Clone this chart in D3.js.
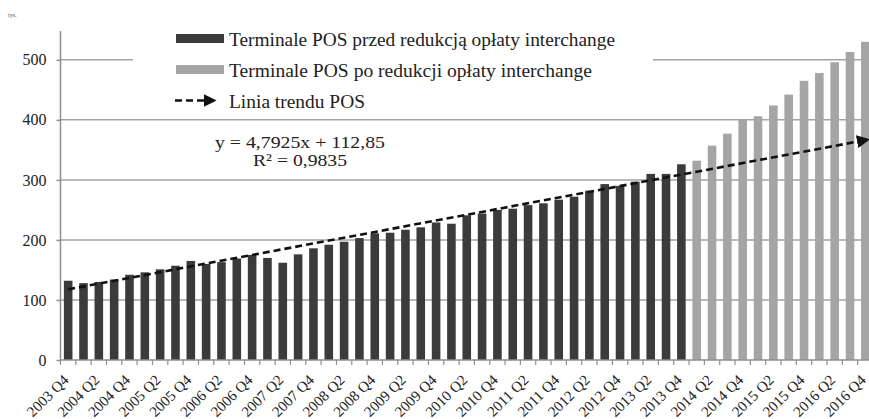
<!DOCTYPE html>
<html>
<head>
<meta charset="utf-8">
<script src="https://cdn.jsdelivr.net/npm/d3@7"></script>
<style>
  body { margin: 0; background: #fff; }
  svg { display: block; font-family: "Liberation Serif", "Times New Roman", serif; }
</style>
</head>
<body>
<div id="chart"></div>
<script>
// kwartały 2003 Q4 - 2016 Q4
const years = d3.range(2003, 2017);
const quarters = [];
years.forEach(y => [1, 2, 3, 4].forEach(q => {
  if (y === 2003 && q < 4) return;
  quarters.push(`${y} Q${q}`);
}));

// liczba terminali POS (tys.) - przed redukcją opłaty interchange (2003 Q4 - 2013 Q4)
const posBefore = [
  132, 128, 130, 134, 142, 146, 151, 157, 165, 160,
  163, 169, 175, 170, 162, 176, 186, 192, 197, 203,
  211, 212, 217, 221, 229, 227, 241, 244, 250, 252,
  258, 261, 267, 272, 282, 293, 290, 297, 310, 310,
  326
];
// po redukcji opłaty interchange (2014 Q1 - 2016 Q4)
const posAfter = [332, 357, 377, 400, 406, 424, 442, 465, 478, 496, 513, 530];

const yTicks = [0, 100, 200, 300, 400, 500];
const trend = { a: 4.7925, b: 112.85, r2: '0,9835' };
const legendLabels = [
  'Terminale POS przed redukcją opłaty interchange',
  'Terminale POS po redukcji opłaty interchange',
  'Linia trendu POS'
];
const legendWidths = [386, 363, 136];   // tekst w oryginale jest lekko rozciągnięty

const colors = { before: '#3b3b3b', after: '#a5a5a5', grid: '#a3a3a3', axis: '#8f8f8f', text: '#222' };

const data = quarters.map((q, i) => ({
  q,
  i,
  value: i < posBefore.length ? posBefore[i] : posAfter[i - posBefore.length],
  after: i >= posBefore.length
}));

const width = 869, height = 419;
const svg = d3.select('#chart').append('svg')
  .attr('width', width)
  .attr('height', height);

const x = d3.scaleBand()
  .domain(quarters)
  .range([60.5, 873])
  .paddingInner(0.44)
  .paddingOuter(0.22);

const y = d3.scaleLinear()
  .domain([0, 548])
  .range([360, 31]);

// jednostka
svg.append('text')
  .attr('x', 8).attr('y', 17)
  .attr('font-size', 6)
  .attr('fill', '#555')
  .text('tys.');

// linie siatki
svg.append('g')
  .selectAll('line')
  .data(yTicks.filter(d => d > 0))
  .join('line')
  .attr('x1', 60).attr('x2', width)
  .attr('y1', d => y(d)).attr('y2', d => y(d))
  .attr('stroke', colors.grid)
  .attr('stroke-width', 1.5);

// oś Y
const yAxis = svg.append('g')
  .attr('transform', 'translate(60.5,0)')
  .call(d3.axisLeft(y).tickValues(yTicks).tickSize(4).tickPadding(10));
yAxis.select('.domain').attr('stroke', colors.axis).attr('stroke-width', 1.5).attr('d', `M0,${y(548)}V360`);
yAxis.selectAll('.tick line').attr('stroke', colors.axis).attr('stroke-width', 1.5);
yAxis.selectAll('.tick text')
  .attr('font-family', '"Liberation Serif", serif')
  .attr('font-size', 16)
  .attr('fill', colors.text);

// słupki
svg.append('g')
  .selectAll('rect')
  .data(data)
  .join('rect')
  .attr('x', d => x(d.q))
  .attr('y', d => y(d.value))
  .attr('width', x.bandwidth())
  .attr('height', d => y(0) - y(d.value))
  .attr('fill', d => d.after ? colors.after : colors.before);

// oś X
const step = x.step();
const xAxisG = svg.append('g');
xAxisG.append('line')
  .attr('x1', 60).attr('x2', width)
  .attr('y1', 360).attr('y2', 360)
  .attr('stroke', colors.axis).attr('stroke-width', 1.5);
xAxisG.selectAll('line.tk')
  .data(d3.range(quarters.length + 1))
  .join('line')
  .attr('class', 'tk')
  .attr('x1', i => 60.5 + i * step).attr('x2', i => 60.5 + i * step)
  .attr('y1', 360).attr('y2', 365)
  .attr('stroke', colors.axis).attr('stroke-width', 1.2);
xAxisG.selectAll('text')
  .data(data.filter(d => d.i % 2 === 0))
  .join('text')
  .attr('transform', d => `translate(${x(d.q) + x.bandwidth() / 2 + 1.5},${381}) rotate(-45)`)
  .attr('text-anchor', 'end')
  .attr('font-size', 15)
  .attr('fill', colors.text)
  .text(d => d.q);

// linia trendu
const defs = svg.append('defs');
defs.append('marker')
  .attr('id', 'arrow')
  .attr('viewBox', '0 0 10 10')
  .attr('refX', 8).attr('refY', 5)
  .attr('markerWidth', 5).attr('markerHeight', 5)
  .attr('markerUnits', 'strokeWidth')
  .attr('orient', 'auto')
  .append('path')
  .attr('d', 'M0,0L10,5L0,10z')
  .attr('fill', '#111');

const cx = d => x(d) + x.bandwidth() / 2;
const first = 1, last = quarters.length;
svg.append('line')
  .attr('x1', cx(quarters[0]))
  .attr('y1', y(trend.a * first + trend.b))
  .attr('x2', cx(quarters[last - 1]) + 2)
  .attr('y2', y(trend.a * last + trend.b))
  .attr('stroke', '#111')
  .attr('stroke-width', 2.6)
  .attr('stroke-dasharray', '7,4')
  .attr('marker-end', 'url(#arrow)');

// legenda
const legend = svg.append('g');
legend.append('rect')
  .attr('x', 133).attr('y', 24)
  .attr('width', 520).attr('height', 90)
  .attr('fill', '#fff');

const rows = [38.5, 69.5, 100.5];
legend.append('rect')
  .attr('x', 176).attr('y', rows[0] - 4.5)
  .attr('width', 48).attr('height', 9)
  .attr('fill', colors.before);
legend.append('rect')
  .attr('x', 176).attr('y', rows[1] - 4.5)
  .attr('width', 48).attr('height', 9)
  .attr('fill', colors.after);
legend.append('line')
  .attr('x1', 175).attr('x2', 214)
  .attr('y1', rows[2]).attr('y2', rows[2])
  .attr('stroke', '#111')
  .attr('stroke-width', 2.6)
  .attr('stroke-dasharray', '7,4')
  .attr('marker-end', 'url(#arrow)');

legend.selectAll('text.lg')
  .data(legendLabels)
  .join('text')
  .attr('class', 'lg')
  .attr('x', 229)
  .attr('y', (d, i) => rows[i] + 7)
  .attr('font-size', 18)
  .attr('fill', colors.text)
  .attr('textLength', (d, i) => legendWidths[i])
  .attr('lengthAdjust', 'spacingAndGlyphs')
  .text(d => d);

// równanie trendu
svg.append('text')
  .attr('x', 215).attr('y', 148)
  .attr('font-size', 17)
  .attr('fill', colors.text)
  .attr('textLength', 170)
  .attr('lengthAdjust', 'spacingAndGlyphs')
  .text(`y = ${String(trend.a).replace('.', ',')}x + ${String(trend.b).replace('.', ',')}`);
svg.append('text')
  .attr('x', 253).attr('y', 166)
  .attr('font-size', 17)
  .attr('fill', colors.text)
  .attr('textLength', 94)
  .attr('lengthAdjust', 'spacingAndGlyphs')
  .text(`R² = ${trend.r2}`);
</script>
</body>
</html>
